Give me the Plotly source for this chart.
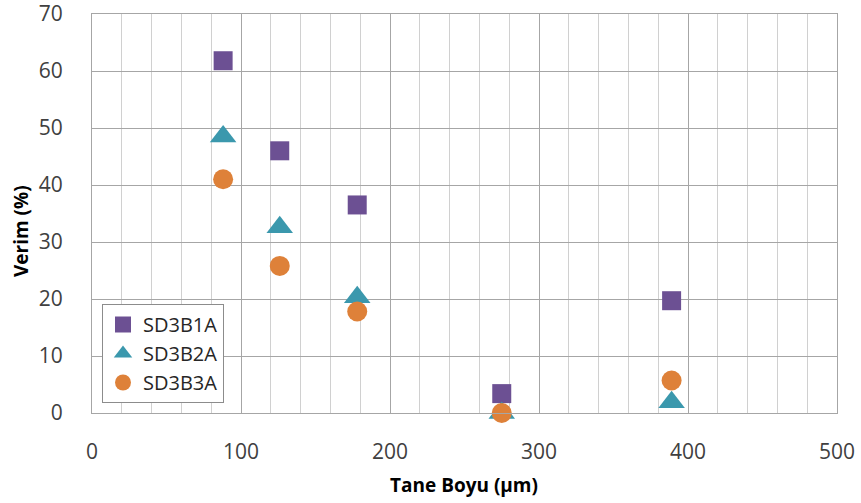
import plotly.graph_objects as go

x_vals = [88, 126, 178, 275, 389]
sd3b1a = [61.8, 46.0, 36.5, 3.4, 19.7]
sd3b2a = [48.5, 32.6, 20.3, 0.0, 1.9]
sd3b3a = [41.0, 25.8, 17.8, 0.0, 5.7]
series_names = ["SD3B1A", "SD3B2A", "SD3B3A"]
colors = ["#6c5093", "#3b98ad", "#de8139"]
symbols = ["square", "triangle-up", "circle"]
sizes = [19, 23, 20]

W, H = 861, 503
ML, MR, MT, MB = 92, 24, 14, 90

fig = go.Figure()
for name, ys, c, s, sz in zip(series_names, [sd3b1a, sd3b2a, sd3b3a], colors, symbols, sizes):
    fig.add_trace(go.Scatter(x=x_vals, y=ys, mode="markers", name=name,
                             marker=dict(color=c, symbol=s, size=sz, line=dict(width=0)),
                             cliponaxis=False))

font_family = "Open Sans, sans-serif"
pw, ph = W - ML - MR, H - MT - MB
fig.update_layout(
    width=W, height=H,
    margin=dict(l=ML, r=MR, t=MT, b=MB, autoexpand=False),
    plot_bgcolor="white", paper_bgcolor="white",
    font=dict(family=font_family, size=20, color="#404040"),
    showlegend=True,
    legend=dict(x=(102 - ML) / pw, y=(413 - 403) / ph, xanchor="left", yanchor="bottom",
                bgcolor="white", bordercolor="#8c8c8c", borderwidth=1,
                font=dict(size=20, color="#262626"), itemsizing="trace",
                tracegroupgap=0, itemwidth=30),
    xaxis=dict(range=[0, 500], dtick=100, tick0=0, showgrid=True, gridcolor="#a6a6a6", gridwidth=1,
               minor=dict(dtick=20, showgrid=True, gridcolor="#d0d0d0", gridwidth=1),
               zeroline=False, showline=True, linecolor="#a6a6a6", mirror=True,
               ticks="", ticklen=0, automargin=False, ticklabelstandoff=20,
               ticklabeloverflow="allow",
               tickfont=dict(size=21, color="#404040")),
    yaxis=dict(range=[0, 70], dtick=10, tick0=0, showgrid=True, gridcolor="#a6a6a6", gridwidth=1,
               zeroline=False, showline=True, linecolor="#a6a6a6", mirror=True,
               ticks="", automargin=False, ticklabelstandoff=24,
               ticklabeloverflow="allow",
               tickfont=dict(size=21, color="#404040")),
    annotations=[
        dict(text="<b>Tane Boyu (µm)</b>", xref="paper", yref="paper",
             x=(463.5 - ML) / pw, y=(H - MB - 485) / ph, xanchor="center", yanchor="middle",
             showarrow=False, font=dict(size=19, color="#000000")),
        dict(text="<b>Verim (%)</b>", xref="paper", yref="paper", textangle=-90,
             x=(21 - ML) / pw, y=(H - MB - 231) / ph, xanchor="center", yanchor="middle",
             showarrow=False, font=dict(size=19, color="#000000")),
    ],
)
fig.write_html("out.html", config={"displayModeBar": False},
               post_script="document.body.style.margin='0';document.body.style.padding='0';")
